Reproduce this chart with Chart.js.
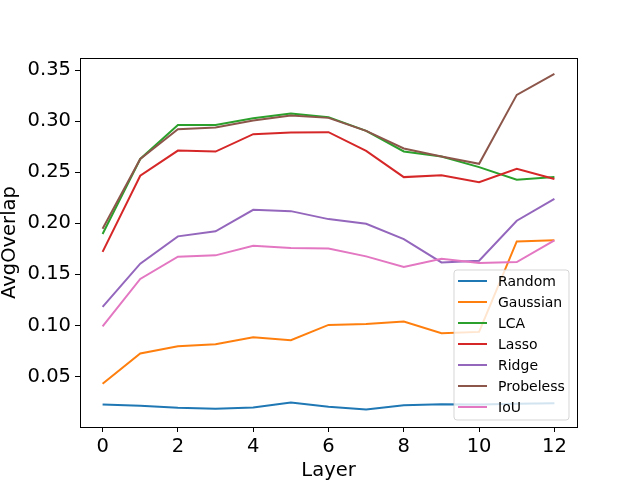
<!DOCTYPE html>
<html>
<head>
<meta charset="utf-8">
<script src="https://cdn.jsdelivr.net/npm/chart.js@4/dist/chart.umd.min.js"></script>
<style>
html,body{margin:0;padding:0;background:#fff;}
#wrap{width:640px;height:480px;}
</style>
</head>
<body>
<div id="wrap"><canvas id="c" width="640" height="480"></canvas></div>
<script>
const layers = [0,1,2,3,4,5,6,7,8,9,10,11,12];
const xTicks = [0,2,4,6,8,10,12];
const yTicks = [0.05,0.10,0.15,0.20,0.25,0.30,0.35];
const seriesNames = ["Random","Gaussian","LCA","Lasso","Ridge","Probeless","IoU"];
const seriesColors = ["#1f77b4","#ff7f0e","#2ca02c","#d62728","#9467bd","#8c564b","#e377c2"];
const random    = [0.0226,0.0213,0.0194,0.0184,0.0197,0.0246,0.0204,0.0177,0.0219,0.0229,0.0226,0.0233,0.0239];
const gaussian  = [0.0430,0.0725,0.0796,0.0816,0.0884,0.0855,0.1005,0.1015,0.1038,0.0923,0.0937,0.1823,0.1833];
const lca       = [0.1895,0.2630,0.2963,0.2963,0.3029,0.3074,0.3039,0.2905,0.2703,0.2654,0.2550,0.2426,0.2452];
const lasso     = [0.1720,0.2465,0.2712,0.2702,0.2872,0.2888,0.2892,0.2709,0.2452,0.2471,0.2403,0.2533,0.2433];
const ridge     = [0.1181,0.1605,0.1872,0.1921,0.2132,0.2119,0.2041,0.1996,0.1846,0.1617,0.1634,0.2025,0.2240];
const probeless = [0.1947,0.2630,0.2921,0.2937,0.3006,0.3054,0.3032,0.2905,0.2732,0.2654,0.2582,0.3257,0.3462];
const iou       = [0.0992,0.1455,0.1673,0.1686,0.1780,0.1758,0.1754,0.1676,0.1572,0.1653,0.1611,0.1620,0.1833];
const allSeries = [random,gaussian,lca,lasso,ridge,probeless,iou];

const FONT = "'DejaVu Sans', sans-serif";

const datasets = allSeries.map((vals,i)=>({
  label: seriesNames[i],
  data: vals.map((v,j)=>({x:layers[j], y:v})),
  borderColor: seriesColors[i],
  backgroundColor: seriesColors[i],
  borderWidth: 2,
  pointRadius: 0,
  tension: 0,
  fill: false,
  order: -i
}));

const frame = {
  id:'frame',
  afterDatasetsDraw(chart){
    const a = chart.chartArea, ctx = chart.ctx;
    ctx.save();
    ctx.strokeStyle = '#000';
    ctx.lineWidth = 1;
    ctx.strokeRect(Math.round(a.left)+0.5, Math.round(a.top)+0.5, Math.round(a.right-a.left), Math.round(a.bottom-a.top));
    ctx.restore();
  }
};

const legendBox = {
  id:'legendBox',
  afterDraw(chart){
    const a = chart.chartArea, ctx = chart.ctx;
    const w = 115, h = 150;
    const x = a.right - 8 - w, y = a.bottom - 7 - h;
    ctx.save();
    ctx.globalAlpha = 0.8;
    ctx.fillStyle = '#fff';
    ctx.strokeStyle = '#cccccc';
    ctx.lineWidth = 1;
    const r = 3;
    ctx.beginPath();
    ctx.moveTo(x+r,y);
    ctx.lineTo(x+w-r,y); ctx.quadraticCurveTo(x+w,y,x+w,y+r);
    ctx.lineTo(x+w,y+h-r); ctx.quadraticCurveTo(x+w,y+h,x+w-r,y+h);
    ctx.lineTo(x+r,y+h); ctx.quadraticCurveTo(x,y+h,x,y+h-r);
    ctx.lineTo(x,y+r); ctx.quadraticCurveTo(x,y,x+r,y);
    ctx.closePath();
    ctx.fill(); ctx.stroke();
    ctx.globalAlpha = 1;
    ctx.font = "14px " + FONT;
    ctx.textBaseline = 'middle';
    ctx.fillStyle = '#000';
    chart.data.datasets.forEach((ds,i)=>{
      const cy = y + 11 + i*21;
      ctx.strokeStyle = ds.borderColor;
      ctx.lineWidth = 2;
      ctx.beginPath();
      ctx.moveTo(x+4, cy); ctx.lineTo(x+33, cy);
      ctx.stroke();
      ctx.fillText(ds.label, x+44, cy+1);
    });
    ctx.restore();
  }
};

new Chart(document.getElementById('c'), {
  type:'line',
  data:{datasets},
  options:{
    responsive:false,
    animation:false,
    devicePixelRatio:1,
    layout:{padding:{top:58,right:63,left:0,bottom:0}},
    plugins:{legend:{display:false},tooltip:{enabled:false},title:{display:false}},
    scales:{
      x:{
        type:'linear', min:-0.6, max:12.6,
        afterFit(s){ s.height = 53; },
        afterBuildTicks(s){ s.ticks = xTicks.map(v=>({value:v})); },
        ticks:{color:'#000', font:{family:FONT,size:19.5}, padding:3, maxRotation:0,
               callback:(v)=>String(v)},
        grid:{drawOnChartArea:false, drawTicks:true, tickLength:5, color:'#000', tickColor:'#000'},
        border:{display:true, color:'#000'},
        title:{display:true, text:'Layer', color:'#000', font:{family:FONT,size:19.5,lineHeight:0.9}, padding:{top:0,bottom:0}}
      },
      y:{
        type:'linear', min:0.0006, max:0.3618,
        afterFit(s){ s.width = 80; },
        afterBuildTicks(s){ s.ticks = yTicks.map(v=>({value:v})); },
        ticks:{color:'#000', font:{family:FONT,size:19.5}, padding:4,
               callback:(v)=>v.toFixed(2)},
        grid:{drawOnChartArea:false, drawTicks:true, tickLength:5, color:'#000', tickColor:'#000'},
        border:{display:true, color:'#000'},
        title:{display:true, text:'AvgOverlap', color:'#000', font:{family:FONT,size:19.5,lineHeight:1.0}, padding:{top:0,bottom:0}}
      }
    }
  },
  plugins:[frame, legendBox]
});
</script>
</body>
</html>
